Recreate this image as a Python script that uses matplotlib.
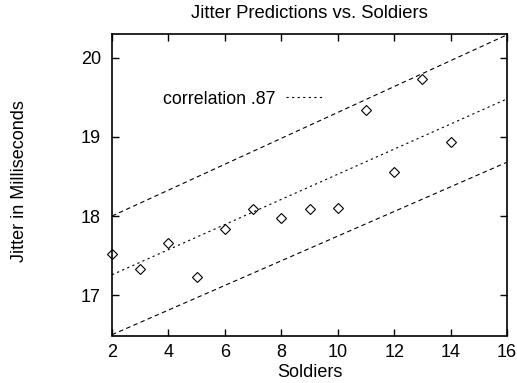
import matplotlib
matplotlib.use("Agg")
import matplotlib.pyplot as plt

plt.rcParams['font.family'] = ['Liberation Sans', 'DejaVu Sans']

soldiers = [2, 3, 4, 5, 6, 7, 8, 9, 10, 11, 12, 13, 14]
jitter = [17.52, 17.33, 17.665, 17.235, 17.835, 18.09, 17.98, 18.09, 18.10,
          19.345, 18.56, 19.735, 18.93]

line_x = [2, 16]
fit_y = [17.257, 19.48]
upper_y = [18.0, 20.29]
lower_y = [16.5, 18.68]

xticks = [2, 4, 6, 8, 10, 12, 14, 16]
yticks = [17, 18, 19, 20]

W, H = 517, 383
fig = plt.figure(figsize=(W/100, H/100), dpi=100)
ax = fig.add_axes([112/W, 1 - 335.5/H, (507-112)/W, (335.5-34)/H])

ax.plot(soldiers, jitter, linestyle='none', marker='D', markersize=5.5,
        markerfacecolor='none', markeredgecolor='black', markeredgewidth=0.8,
        clip_on=False, zorder=3)
ax.plot(line_x, fit_y, color='black', linewidth=0.8, dashes=(2, 3),
        label='correlation .87')
ax.plot(line_x, upper_y, color='black', linewidth=0.8, dashes=(4, 3))
ax.plot(line_x, lower_y, color='black', linewidth=0.8, dashes=(4, 3))

ax.set_xlim(2, 16)
ax.set_ylim(16.49, 20.30)
ax.set_xticks(xticks)
ax.set_yticks(yticks)
ax.tick_params(direction='in', length=5, width=1, top=True, right=True,
               labelsize=13, color='black')
ax.tick_params(axis='x', pad=6)
ax.tick_params(axis='y', pad=8)
for s in ax.spines.values():
    s.set_linewidth(1.2)

fig.text(309.5/W, 1 - 14/H, 'Jitter Predictions vs. Soldiers', fontsize=13.3,
         ha='center', va='center')
ax.set_xlabel('Soldiers', fontsize=13, va='center')
ax.xaxis.set_label_coords(0.5, (335.5-372.5)/301.5)
ax.set_ylabel('Jitter in Milliseconds', fontsize=13, va='center')
ax.yaxis.set_label_coords((20-112)/395, (335.5-181)/301.5)

leg = ax.legend(loc='center right', bbox_to_anchor=(325/W, 1 - 99/H),
                bbox_transform=fig.transFigure, frameon=False,
                fontsize=12.8, markerfirst=False, handlelength=2.2,
                handletextpad=0.57, borderaxespad=0, borderpad=0)

fig.savefig('out.png', dpi=100)
